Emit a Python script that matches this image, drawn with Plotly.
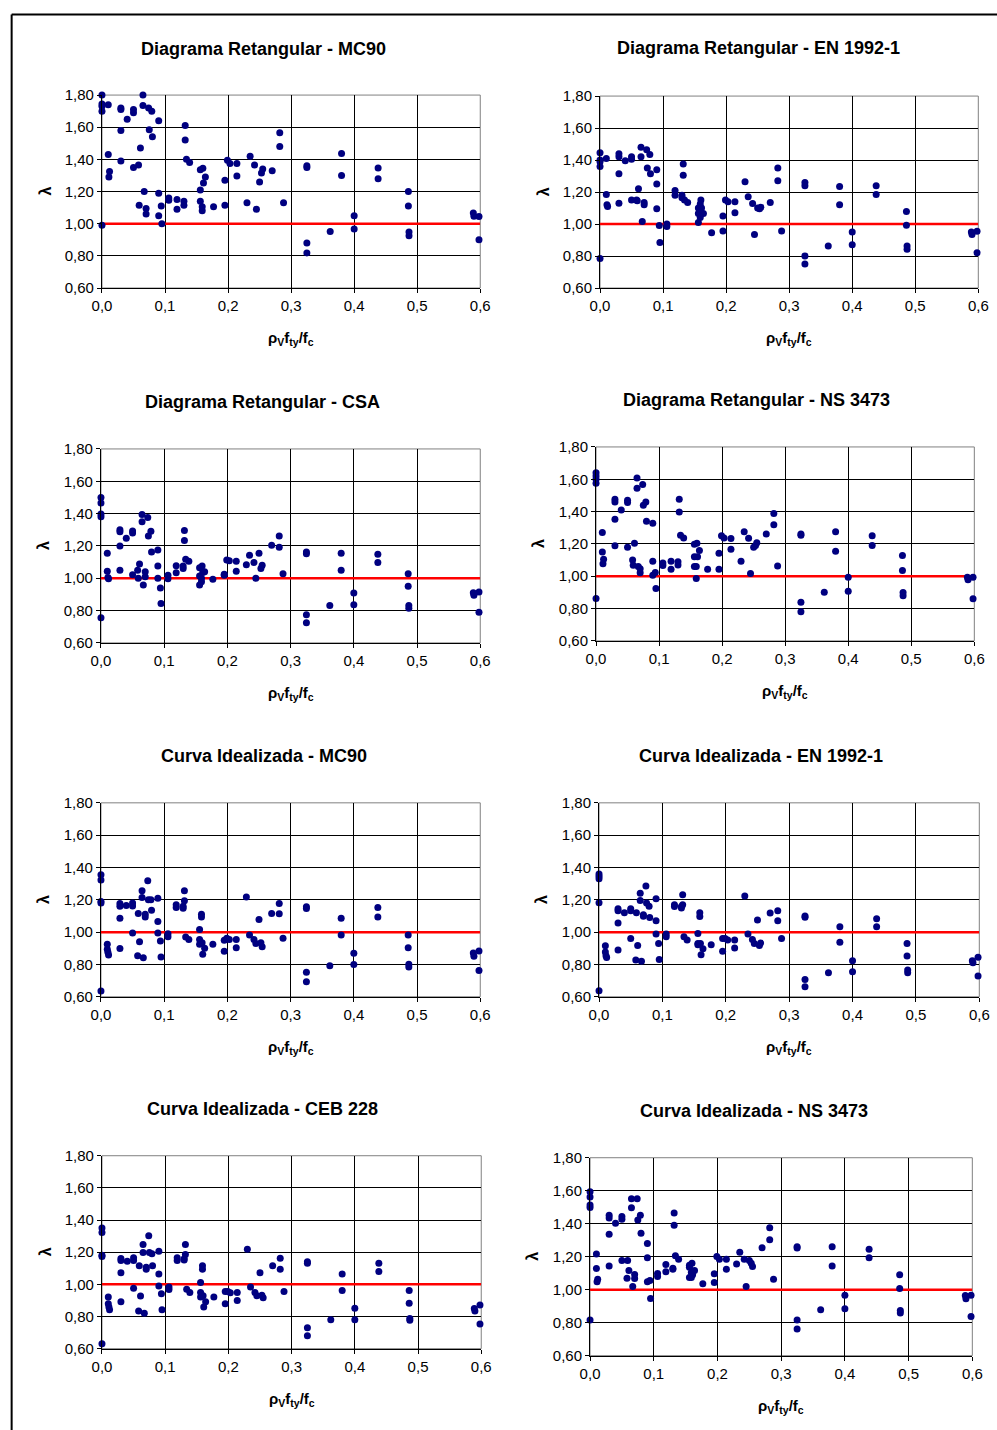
import plotly.graph_objects as go

# Shear reinforcement ratio (rho_v * f_ty / f_c) for each specimen, shared by all panels
x_rho = [0, 0, 0, 0, 0,
         0.010, 0.010, 0.011, 0.012,
         0.030, 0.030, 0.030, 0.030,
         0.040,
         0.050, 0.050, 0.050,
         0.058, 0.059, 0.061,
         0.065, 0.065, 0.067, 0.070, 0.070, 0.074, 0.075,
         0.079, 0.080,
         0.090, 0.090, 0.090, 0.094, 0.095,
         0.106, 0.106,
         0.119, 0.119,
         0.130, 0.130, 0.132, 0.132, 0.134, 0.139,
         0.156, 0.156, 0.156, 0.159, 0.159, 0.160, 0.161, 0.164,
         0.177,
         0.195, 0.195,
         0.199, 0.203,
         0.214, 0.214,
         0.230,
         0.235,
         0.242, 0.245,
         0.250, 0.253, 0.255,
         0.270,
         0.282, 0.282,
         0.288,
         0.325, 0.325, 0.325, 0.325,
         0.362,
         0.380, 0.380,
         0.400, 0.400,
         0.438, 0.438,
         0.486, 0.486, 0.487, 0.487,
         0.589, 0.590,
         0.598, 0.598]

# lambda = experimental / predicted strength for each model
lam_rect_mc90 = [1.80, 1.745, 1.73, 1.70, 0.99,
                 1.74, 1.43, 1.29, 1.325,
                 1.72, 1.71, 1.58, 1.39,
                 1.65,
                 1.71, 1.69, 1.35,
                 1.365, 1.115, 1.47,
                 1.80, 1.735, 1.20, 1.095, 1.06, 1.72, 1.585,
                 1.70, 1.54,
                 1.64, 1.19, 1.05, 1.11, 1.00,
                 1.16, 1.145,
                 1.15, 1.09,
                 1.14, 1.115, 1.61, 1.52, 1.40, 1.38,
                 1.335, 1.21, 1.14, 1.105, 1.08, 1.345, 1.253, 1.29,
                 1.105,
                 1.27, 1.115,
                 1.395, 1.375,
                 1.375, 1.296,
                 1.13,
                 1.42,
                 1.365, 1.09,
                 1.26, 1.315, 1.34,
                 1.33,
                 1.565, 1.48,
                 1.13,
                 1.36, 1.35, 0.88, 0.818,
                 0.952,
                 1.437, 1.30,
                 1.05, 0.967,
                 1.346, 1.28,
                 1.20, 1.11, 0.948, 0.925,
                 1.066, 1.047,
                 1.045, 0.90]

lam_rect_en = [1.445, 1.40, 1.39, 1.36, 0.785,
               1.41, 1.185, 1.12, 1.11,
               1.44, 1.42, 1.315, 1.13,
               1.395,
               1.42, 1.405, 1.15,
               1.15, 1.145, 1.22,
               1.48, 1.42, 1.015, 1.135, 1.12, 1.465, 1.35,
               1.435, 1.315,
               1.34, 1.25, 1.095, 0.99, 0.885,
               1.00, 0.985,
               1.21, 1.18,
               1.18, 1.165, 1.375, 1.305, 1.15, 1.135,
               1.10, 1.065, 1.01, 1.125, 1.04, 1.15, 1.10, 1.065,
               0.945,
               1.05, 0.957,
               1.15, 1.14,
               1.14, 1.07,
               1.265,
               1.17,
               1.128, 0.935,
               1.10, 1.095, 1.105,
               1.135,
               1.35, 1.27,
               0.957,
               1.26, 1.24, 0.80, 0.75,
               0.863,
               1.235, 1.12,
               0.95, 0.87,
               1.24, 1.185,
               1.078, 0.993, 0.863, 0.842,
               0.95, 0.935,
               0.955, 0.82]

lam_rect_csa = [1.50, 1.465, 1.397, 1.38, 0.755,
                1.155, 1.043, 1.005, 0.997,
                1.30, 1.287, 1.20, 1.05,
                1.247,
                1.293, 1.28, 1.022,
                1.05, 1.00, 1.088,
                1.395, 1.35, 0.958, 1.04, 1.01, 1.376, 1.262,
                1.29, 1.163,
                1.175, 1.076, 1.00, 0.94, 0.844,
                1.018, 0.997,
                1.078, 1.034,
                1.076, 1.06, 1.295, 1.233, 1.117, 1.105,
                1.065, 1.014, 0.958, 1.00, 0.979, 1.076, 1.035, 1.04,
                0.993,
                1.024, 1.018,
                1.113, 1.109,
                1.105, 1.043,
                1.084,
                1.142,
                1.098, 1.00,
                1.154, 1.06, 1.08,
                1.204,
                1.262, 1.192,
                1.028,
                1.163, 1.152, 0.774, 0.724,
                0.832,
                1.154, 1.049,
                0.908, 0.836,
                1.148, 1.097,
                1.028, 0.95, 0.832, 0.815,
                0.91, 0.895,
                0.915, 0.79]

lam_rect_ns = [1.64, 1.62, 1.60, 1.575, 0.862,
               1.27, 1.15, 1.078, 1.105,
               1.476, 1.46, 1.353, 1.188,
               1.41,
               1.47, 1.456, 1.18,
               1.10, 1.068, 1.204,
               1.608, 1.544, 1.06, 1.047, 1.022, 1.567, 1.44,
               1.46, 1.34,
               1.328, 1.093, 1.006, 1.023, 0.924,
               1.082, 1.066,
               1.093, 1.043,
               1.089, 1.07, 1.476, 1.398, 1.254, 1.237,
               1.198, 1.12, 1.06, 1.06, 0.986, 1.204, 1.12, 1.16,
               1.043,
               1.142, 1.043,
               1.25, 1.237,
               1.233, 1.167,
               1.093,
               1.276,
               1.235, 1.017,
               1.18, 1.19, 1.208,
               1.262,
               1.388, 1.318,
               1.064,
               1.262, 1.254, 0.839, 0.781,
               0.901,
               1.276, 1.155,
               0.994, 0.907,
               1.25, 1.19,
               1.128, 1.035, 0.899, 0.88,
               0.994, 0.979,
               0.994, 0.86]

lam_curve_mc90 = [1.355, 1.322, 1.19, 1.18, 0.635,
                  0.925, 0.894, 0.875, 0.858,
                  1.177, 1.16, 1.086, 0.898,
                  1.165,
                  1.18, 1.162, 0.995,
                  0.854, 1.115, 0.94,
                  1.256, 1.214, 0.842, 1.11, 1.094, 1.318, 1.20,
                  1.20, 1.136,
                  1.21, 1.066, 0.995, 0.945, 0.846,
                  0.99, 0.972,
                  1.169, 1.152,
                  1.16, 1.148, 1.256, 1.194, 0.97, 0.954,
                  1.016, 0.954, 0.925, 1.11, 1.094, 0.935, 0.863, 0.90,
                  0.925,
                  0.95, 0.882,
                  0.962, 0.954,
                  0.954, 0.904,
                  1.218,
                  0.982,
                  0.954, 0.93,
                  1.078, 0.935, 0.91,
                  1.115,
                  1.177, 1.113,
                  0.962,
                  1.157, 1.146, 0.751, 0.693,
                  0.792,
                  1.086, 0.982,
                  0.869, 0.80,
                  1.152, 1.094,
                  0.982, 0.904, 0.801, 0.784,
                  0.871, 0.85,
                  0.883, 0.763]

lam_curve_en = [1.36, 1.345, 1.331, 1.182, 0.637,
                0.916, 0.877, 0.854, 0.843,
                1.145, 1.133, 1.057, 0.889,
                1.12,
                1.145, 1.133, 0.96,
                0.827, 1.12, 0.918,
                1.24, 1.195, 0.82, 1.108, 1.098, 1.286, 1.18,
                1.16, 1.09,
                1.207, 1.071, 0.988, 0.93, 0.831,
                0.988, 0.972,
                1.17, 1.158,
                1.158, 1.15, 1.232, 1.17, 0.972, 0.951,
                0.992, 0.93, 0.922, 1.12, 1.096, 0.93, 0.86, 0.897,
                0.922,
                0.96, 0.881,
                0.96, 0.951,
                0.951, 0.902,
                1.224,
                0.988,
                0.955, 0.93,
                1.075, 0.918, 0.932,
                1.118,
                1.133, 1.071,
                0.96,
                1.10, 1.092, 0.707, 0.662,
                0.749,
                1.034, 0.937,
                0.823, 0.755,
                1.083, 1.034,
                0.93, 0.852, 0.765, 0.749,
                0.823, 0.811,
                0.844, 0.728]

lam_curve_ceb = [1.351, 1.322, 1.181, 1.173, 0.631,
                 0.921, 0.879, 0.859, 0.842,
                 1.161, 1.148, 1.072, 0.892,
                 1.144,
                 1.165, 1.148, 0.976,
                 0.834, 1.115, 0.927,
                 1.248, 1.198, 0.821, 1.107, 1.094, 1.303, 1.198,
                 1.19, 1.115,
                 1.206, 1.065, 0.989, 0.941, 0.842,
                 0.983, 0.968,
                 1.165, 1.148,
                 1.16, 1.152, 1.248, 1.186, 0.97, 0.95,
                 1.012, 0.95, 0.921, 1.115, 1.094, 0.929, 0.859, 0.892,
                 0.921,
                 0.956, 0.879,
                 0.956, 0.948,
                 0.95, 0.90,
                 1.219,
                 0.983,
                 0.95, 0.929,
                 1.072, 0.933, 0.916,
                 1.115,
                 1.163, 1.094,
                 0.956,
                 1.14, 1.132, 0.73, 0.68,
                 0.78,
                 1.065, 0.962,
                 0.852, 0.78,
                 1.132, 1.08,
                 0.962, 0.883, 0.788, 0.776,
                 0.85, 0.834,
                 0.871, 0.753]

lam_curve_ns = [1.594, 1.562, 1.514, 1.499, 0.816,
                1.217, 1.128, 1.048, 1.064,
                1.451, 1.435, 1.336, 1.144,
                1.403,
                1.443, 1.427, 1.177,
                1.07, 1.177, 1.116,
                1.552, 1.497, 1.019, 1.092, 1.068, 1.552, 1.423,
                1.451, 1.342,
                1.28, 1.193, 1.048, 1.056, 0.947,
                1.098, 1.08,
                1.152, 1.108,
                1.13, 1.124, 1.465, 1.39, 1.205, 1.185,
                1.148, 1.136, 1.074, 1.104, 1.074, 1.16, 1.09, 1.116,
                1.036,
                1.096, 1.044,
                1.201, 1.185,
                1.185, 1.124,
                1.156,
                1.227,
                1.185, 1.019,
                1.177, 1.16, 1.14,
                1.255,
                1.376, 1.302,
                1.064,
                1.261, 1.253, 0.816, 0.761,
                0.878,
                1.261, 1.144,
                0.967, 0.884,
                1.245, 1.193,
                1.09, 1.007, 0.874, 0.858,
                0.965, 0.945,
                0.967, 0.838]

titles = ["Diagrama Retangular - MC90", "Diagrama Retangular - EN 1992-1",
          "Diagrama Retangular - CSA", "Diagrama Retangular - NS 3473",
          "Curva Idealizada - MC90", "Curva Idealizada - EN 1992-1",
          "Curva Idealizada - CEB 228", "Curva Idealizada - NS 3473"]
series = [lam_rect_mc90, lam_rect_en, lam_rect_csa, lam_rect_ns,
          lam_curve_mc90, lam_curve_en, lam_curve_ceb, lam_curve_ns]
for s in series:
    assert len(s) == len(x_rho)

x_range = [0, 0.6]
y_range = [0.6, 1.8]
lambda_ref = 1.0

# Sheet layout: positions below are given in sheet pixels (997 x 1430 sheet).
# The page adds an 8px body margin and the sheet is fitted to the window with a
# small scale factor, so sheet pixels are converted to figure coordinates here.
SHEET_W, SHEET_H = 997, 1430
BODY = 8
SX, SY = 0.982, 0.9885
W = round(SHEET_W / SX - BODY)
H = round(SHEET_H / SY - BODY)


def px(xp):
    return (xp / SX - BODY) / W


def py(yp):
    return 1 - (yp / SY - BODY) / H


# plot-area boxes in sheet pixels: left, right, top, bottom
boxes = [(100, 479, 94, 287), (599, 978, 95, 287),
         (99, 479, 448, 642), (595, 974, 446, 640),
         (99, 479, 802, 996), (598, 979, 802, 996),
         (100, 480, 1155, 1348), (589, 972, 1157, 1355)]
# title centres in sheet pixels
title_pos = [(262, 48), (758, 47), (261, 401), (756, 399),
             (262, 755), (760, 755), (261, 1108), (753, 1110)]

FONT = "Arial, Liberation Sans, sans-serif"
NAVY = "#000080"

fig = go.Figure()
layout = dict(width=W, height=H, margin=dict(l=0, r=0, t=0, b=0),
              paper_bgcolor="white", plot_bgcolor="white",
              separators=",.", showlegend=False,
              font=dict(family=FONT, color="black"))
annotations = []
shapes = []

for i, (vals, title, box, tpos) in enumerate(zip(series, titles, boxes, title_pos), start=1):
    l, r, t, b = box
    xa = "x" if i == 1 else f"x{i}"
    ya = "y" if i == 1 else f"y{i}"
    fig.add_trace(go.Scatter(x=x_range, y=[lambda_ref, lambda_ref], mode="lines",
                             line=dict(color="#FF0000", width=2.5),
                             xaxis=xa, yaxis=ya, hoverinfo="skip", cliponaxis=False))
    fig.add_trace(go.Scatter(x=x_rho, y=vals, mode="markers",
                             marker=dict(color=NAVY, size=7, line=dict(width=0)),
                             xaxis=xa, yaxis=ya, cliponaxis=False))
    layout[f"xaxis{'' if i == 1 else i}"] = dict(
        domain=[px(l), px(r)], anchor=ya, range=x_range, dtick=0.1, tick0=0,
        tickformat=".1f", showgrid=True, gridcolor="black", gridwidth=1,
        showline=True, linecolor="black", linewidth=1, zeroline=False,
        ticks="outside", ticklen=4, tickcolor="black",
        tickfont=dict(family=FONT, size=15, color="black"))
    layout[f"yaxis{'' if i == 1 else i}"] = dict(
        domain=[py(b), py(t)], anchor=xa, range=y_range, dtick=0.2, tick0=0.6,
        tickformat=".2f", showgrid=True, gridcolor="black", gridwidth=1,
        showline=True, linecolor="black", linewidth=1, zeroline=False,
        ticks="outside", ticklen=4, tickcolor="black",
        tickfont=dict(family=FONT, size=15, color="black"))
    # gray frame on the plot area
    shapes.append(dict(type="rect", xref="paper", yref="paper",
                       x0=px(l), x1=px(r), y0=py(b), y1=py(t), layer="below",
                       line=dict(color="#808080", width=1)))
    annotations.append(dict(text=f"<b>{title}</b>", x=px(tpos[0]), y=py(tpos[1]),
                            xref="paper", yref="paper", showarrow=False,
                            xanchor="center", yanchor="middle",
                            font=dict(family=FONT, size=18, color="black")))
    annotations.append(dict(text="<b>ρ<sub>V</sub>f<sub>ty</sub>/f<sub>c</sub></b>",
                            x=px((l + r) / 2), y=py(b + 51),
                            xref="paper", yref="paper", showarrow=False,
                            xanchor="center", yanchor="middle",
                            font=dict(family=FONT, size=15, color="black")))
    annotations.append(dict(text="<b>λ</b>", x=px(l - 57), y=py((t + b) / 2),
                            xref="paper", yref="paper", showarrow=False, textangle=-90,
                            xanchor="center", yanchor="middle",
                            font=dict(family=FONT, size=16, color="black")))

# outer frame (top and left edges)
shapes.append(dict(type="line", xref="paper", yref="paper",
                   x0=px(9.5), x1=1, y0=py(13.5), y1=py(13.5),
                   line=dict(color="black", width=2)))
shapes.append(dict(type="line", xref="paper", yref="paper",
                   x0=px(9.5), x1=px(9.5), y0=0, y1=py(13.5),
                   line=dict(color="black", width=2)))

layout["annotations"] = annotations
layout["shapes"] = shapes
fig.update_layout(**layout)
fig.write_html("out.html")
